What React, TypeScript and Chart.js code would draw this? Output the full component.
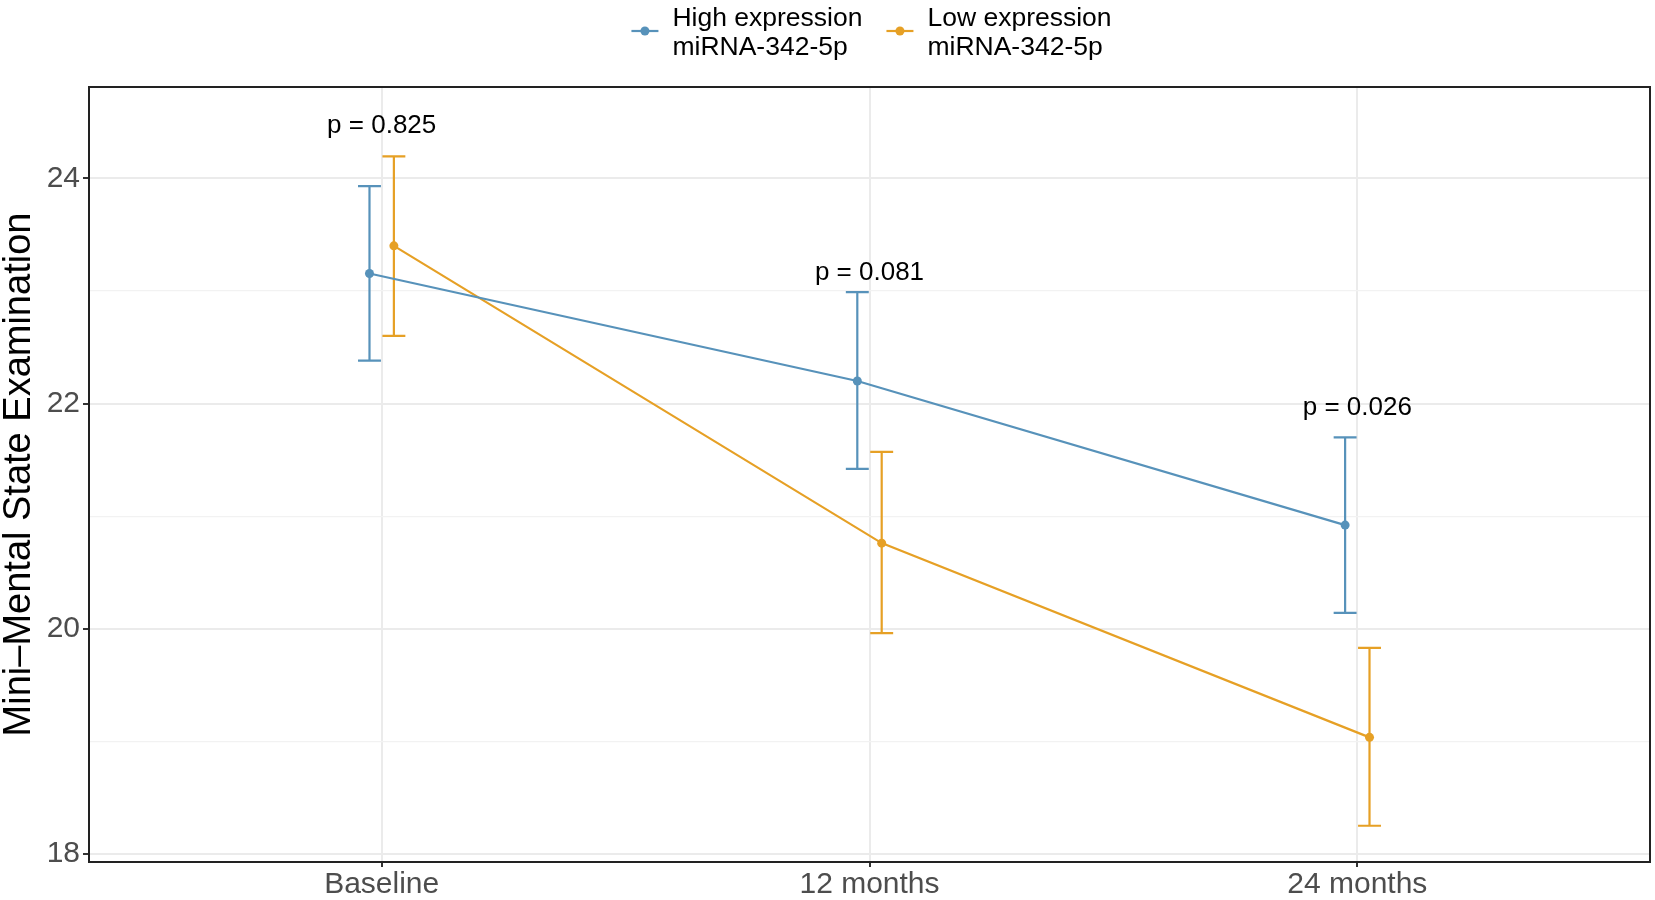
import React, { useEffect, useRef } from 'react';
import { Chart, registerables } from 'chart.js';

Chart.register(...registerables);

// ---- data ----
const categories = ['Baseline', '12 months', '24 months'];
const highMean = [23.155, 22.2, 20.92];
const highUpper = [23.93, 22.99, 21.7];
const highLower = [22.38, 21.42, 20.14];
const lowMean = [23.4, 20.76, 19.035];
const lowUpper = [24.195, 21.57, 19.83];
const lowLower = [22.6, 19.96, 18.25];
const pLabels = ['p = 0.825', 'p = 0.081', 'p = 0.026'];
const pLabelY = [24.487, 23.18, 21.98];
const yTicks = [18, 19, 20, 21, 22, 23, 24];
const seriesLines = [
  ['High expression', 'miRNA-342-5p'],
  ['Low expression', 'miRNA-342-5p'],
];

// ---- styles ----
const BLUE = '#5792BA';
const ORANGE = '#E6A025';
const FONT = "'Liberation Sans', Arial, Helvetica, sans-serif";
const DODGE = 0.025;
const CAP = 0.0235;

const overlayPlugin = {
  id: 'overlay',
  beforeDatasetsDraw(chart: any) {
    const ctx = chart.ctx;
    const xs = chart.scales.x;
    const ys = chart.scales.y;
    const half = xs.getPixelForValue(CAP) - xs.getPixelForValue(0);
    chart.data.datasets.forEach((ds: any) => {
      ctx.save();
      ctx.strokeStyle = ds.borderColor;
      ctx.lineWidth = 2.2;
      ds.data.forEach((p: any, i: number) => {
        const x = xs.getPixelForValue(p.x);
        const yu = ys.getPixelForValue(ds.errUpper[i]);
        const yl = ys.getPixelForValue(ds.errLower[i]);
        ctx.beginPath();
        ctx.moveTo(x, yu);
        ctx.lineTo(x, yl);
        ctx.moveTo(x - half, yu);
        ctx.lineTo(x + half, yu);
        ctx.moveTo(x - half, yl);
        ctx.lineTo(x + half, yl);
        ctx.stroke();
      });
      ctx.restore();
    });
  },
  afterDraw(chart: any) {
    const ctx = chart.ctx;
    const xs = chart.scales.x;
    const ys = chart.scales.y;
    const area = chart.chartArea;

    // p-value annotations
    ctx.save();
    ctx.fillStyle = '#000000';
    const pf = 26;
    ctx.font = `${pf}px ${FONT}`;
    ctx.textAlign = 'center';
    ctx.textBaseline = 'alphabetic';
    pLabels.forEach((t, i) => {
      const x = xs.getPixelForValue(i);
      const y = ys.getPixelForValue(pLabelY[i]) + 0.358 * pf;
      ctx.fillText(t, x, y);
    });
    ctx.restore();

    // panel border
    ctx.save();
    ctx.strokeStyle = '#222222';
    ctx.lineWidth = 2;
    ctx.strokeRect(area.left, area.top, area.right - area.left, area.bottom - area.top);
    ctx.restore();

    // legend
    ctx.save();
    const lf = 26.5;
    ctx.font = `${lf}px ${FONT}`;
    ctx.textBaseline = 'alphabetic';
    ctx.textAlign = 'left';
    const colors = [BLUE, ORANGE];
    const keyW = 27;
    const keyGap = 14;
    const entryGap = 24;
    const widths = seriesLines.map((ls) => Math.max(...ls.map((l) => ctx.measureText(l).width)));
    const total = widths.reduce((a, w) => a + keyW + keyGap + w, 0) + entryGap;
    let x = 871.5 - total / 2;
    const keyY = 31;
    seriesLines.forEach((ls, i) => {
      ctx.strokeStyle = colors[i];
      ctx.fillStyle = colors[i];
      ctx.lineWidth = 2.2;
      ctx.beginPath();
      ctx.moveTo(x, keyY);
      ctx.lineTo(x + keyW, keyY);
      ctx.stroke();
      ctx.beginPath();
      ctx.arc(x + keyW / 2, keyY, 4.5, 0, Math.PI * 2);
      ctx.fill();
      const tx = x + keyW + keyGap;
      ctx.fillStyle = '#000000';
      ctx.fillText(ls[0], tx, 25.7);
      ctx.fillText(ls[1], tx, 55.4);
      x = tx + widths[i] + entryGap;
    });
    ctx.restore();
  },
};

export default function App() {
  const canvasRef = useRef<HTMLCanvasElement | null>(null);

  useEffect(() => {
    document.body.style.margin = '0';
    const canvas = canvasRef.current;
    if (!canvas) return;
    const chart = new Chart(canvas, {
      type: 'line',
      data: {
        datasets: [
          {
            label: seriesLines[0].join(' '),
            data: categories.map((_, i) => ({ x: i - DODGE, y: highMean[i] })),
            borderColor: BLUE,
            backgroundColor: BLUE,
            borderWidth: 2.2,
            pointRadius: 4.5,
            pointHoverRadius: 4.5,
            pointBorderWidth: 0,
            tension: 0,
            errUpper: highUpper,
            errLower: highLower,
          } as any,
          {
            label: seriesLines[1].join(' '),
            data: categories.map((_, i) => ({ x: i + DODGE, y: lowMean[i] })),
            borderColor: ORANGE,
            backgroundColor: ORANGE,
            borderWidth: 2.2,
            pointRadius: 4.5,
            pointHoverRadius: 4.5,
            pointBorderWidth: 0,
            tension: 0,
            errUpper: lowUpper,
            errLower: lowLower,
          } as any,
        ],
      },
      options: {
        animation: false,
        responsive: true,
        maintainAspectRatio: false,
        layout: { padding: { left: 0, right: 5, top: 87, bottom: 0 } },
        plugins: {
          legend: { display: false },
          tooltip: { enabled: false },
        },
        events: [],
        scales: {
          x: {
            type: 'linear',
            min: -0.6,
            max: 2.6,
            afterBuildTicks: (scale: any) => {
              scale.ticks = categories.map((_, i) => ({ value: i }));
            },
            afterFit: (scale: any) => {
              scale.height = 38;
            },
            ticks: {
              autoSkip: false,
              maxRotation: 0,
              padding: 0,
              color: '#4D4D4D',
              font: { family: FONT, size: 30 },
              callback: (v: any) => categories[Math.round(Number(v))] ?? '',
            },
            grid: {
              color: '#EBEBEB',
              lineWidth: 2,
              tickLength: 5,
              tickColor: '#333333',
              tickWidth: 2,
            },
            border: { display: false },
          },
          y: {
            type: 'linear',
            min: 17.928,
            max: 24.811,
            afterBuildTicks: (scale: any) => {
              scale.ticks = yTicks.map((v) => ({ value: v }));
            },
            afterFit: (scale: any) => {
              scale.width = 89;
            },
            ticks: {
              autoSkip: false,
              padding: 3,
              color: '#4D4D4D',
              font: { family: FONT, size: 30 },
              callback: (v: any) => (Number(v) % 2 === 0 ? String(v) : ''),
            },
            grid: {
              color: (c: any) => (c.tick && c.tick.value % 2 === 0 ? '#EBEBEB' : '#F2F2F2'),
              lineWidth: (c: any) => (c.tick && c.tick.value % 2 === 0 ? 2 : 1.2),
              tickLength: 6,
              tickColor: (c: any) =>
                c.tick && c.tick.value % 2 === 0 ? '#333333' : 'rgba(0,0,0,0)',
              tickWidth: 2,
            },
            border: { display: false },
            title: {
              display: true,
              text: 'Mini\u2013Mental State Examination',
              color: '#000000',
              font: { family: FONT, size: 38, lineHeight: 1.0 },
              padding: { top: 1, bottom: 0 },
            },
          },
        },
      },
      plugins: [overlayPlugin],
    } as any);
    return () => chart.destroy();
  }, []);

  return (
    <div style={{ position: 'absolute', left: 0, top: 0, width: 1655, height: 900, background: '#fff' }}>
      <canvas ref={canvasRef} />
    </div>
  );
}
